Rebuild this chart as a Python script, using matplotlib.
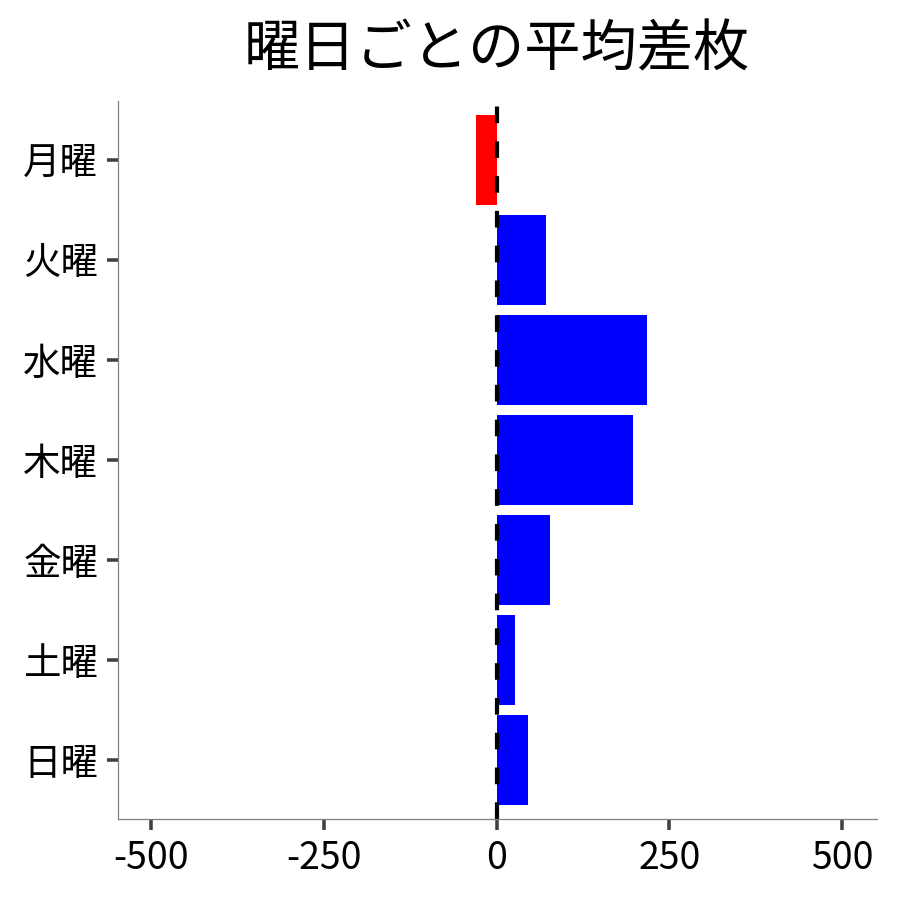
import numpy as np
import matplotlib.pyplot as plt

plt.rcParams['font.family'] = ['Noto Sans CJK JP', 'DejaVu Sans']

days = ['月曜', '火曜', '水曜', '木曜', '金曜', '土曜', '日曜']
avg_diff = [-30, 72, 217, 198, 77, 27, 46]
xticks = [-500, -250, 0, 250, 500]

colors = ['red' if v < 0 else 'blue' for v in avg_diff]

fig = plt.figure(figsize=(6, 6), dpi=150)
ax = fig.add_axes([0.131, 0.09, 0.843, 0.798])

y = np.arange(len(days))
ax.barh(y, avg_diff, height=0.9, color=colors)
ax.axvline(0, color='black', lw=2, ls=(0, (4, 4.35)))

ax.set_yticks(y)
ax.set_yticklabels(days)
ax.set_ylim(len(days) - 0.41, -0.59)
ax.set_xticks(xticks)
ax.set_xticklabels([str(t) for t in xticks])
ax.set_xlim(-548, 550)

ax.spines['right'].set_color('none')
ax.spines['top'].set_color('none')
ax.spines['left'].set_color('#808080')
ax.spines['bottom'].set_color('#808080')
ax.spines['left'].set_linewidth(0.6)
ax.spines['bottom'].set_linewidth(0.6)
ax.tick_params(axis='both', length=5.5, width=1.7, color='#404040', labelsize=18, pad=4)

ax.set_title('曜日ごとの平均差枚', fontsize=27, pad=16.5)

plt.savefig('out.png', dpi=150)
